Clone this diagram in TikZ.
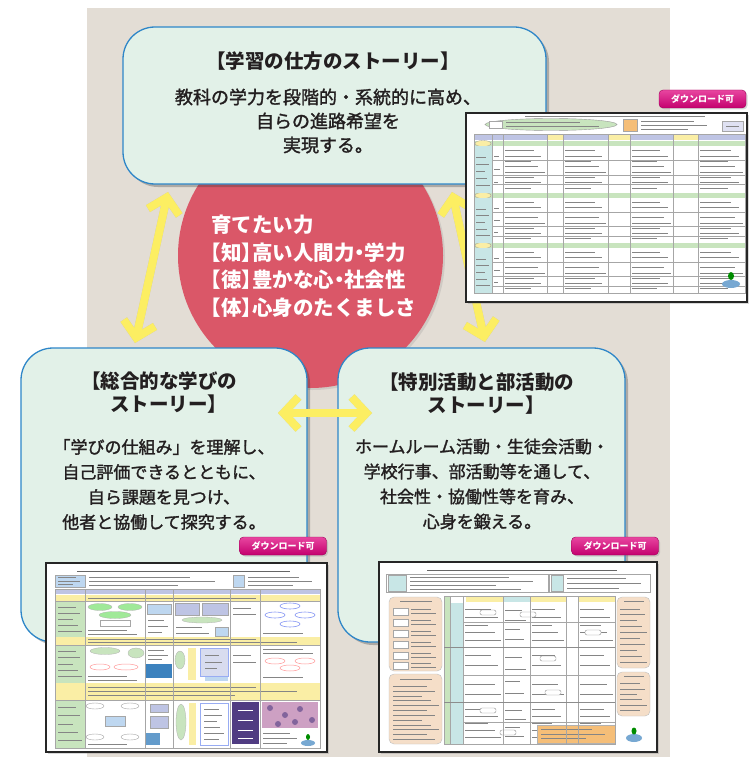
\documentclass[tikz,border=0pt]{standalone}
\usepackage{fontspec}
\newfontfamily\jp{Noto Sans CJK JP}
\newfontfamily\jph[RawFeature=+halt]{Noto Sans CJK JP}
\newfontfamily\jpm[FakeBold=1.6]{Noto Sans CJK JP}
\usetikzlibrary{arrows.meta,shadows,calc}
\definecolor{bgbeige}{RGB}{227,221,213}
\definecolor{boxfill}{RGB}{226,241,232}
\definecolor{boxline}{RGB}{46,134,200}
\definecolor{circred}{RGB}{218,87,104}
\definecolor{arrowy}{RGB}{252,238,98}
\definecolor{badge}{RGB}{196,0,110}
\definecolor{badgelt}{RGB}{232,70,160}
\definecolor{txtdark}{RGB}{35,31,32}
\definecolor{lav}{RGB}{190,196,228}
\definecolor{lgreen}{RGB}{200,228,190}
\definecolor{lyellow}{RGB}{250,238,165}
\definecolor{lteal}{RGB}{200,230,230}
\definecolor{peach}{RGB}{245,222,200}
\definecolor{orangeb}{RGB}{245,190,120}
\definecolor{lblue}{RGB}{190,215,240}
\definecolor{purp}{RGB}{80,60,130}
\definecolor{pinkph}{RGB}{205,160,195}
\definecolor{waterb}{RGB}{60,130,190}
\newcommand\thumbtext[5]{%
  \foreach \k in {1,...,#5}{%
    \pgfmathsetmacro\thY{(#2)+(\k-0.5)*((#4)-(#2))/(#5)}%
    \pgfmathsetmacro\thX{(#3)-mod(\k*3,5)*0.09*((#3)-(#1))}%
    \draw[tline] (#1,\thY) -- (\thX,\thY);
  }}
\begin{document}
\begin{tikzpicture}[x=1pt,y=-1pt,
  story/.style={draw=boxline, line width=1.3pt, fill=boxfill, rounded corners=32pt, inner sep=0pt,
     drop shadow={shadow xshift=3pt, shadow yshift=-3pt, opacity=0.3, fill=black!80}},
  ttl/.style={font=\jph\bfseries\fontsize{19.5}{23}\selectfont, text=txtdark, align=center, inner sep=0pt},
  bdy/.style={font=\jpm\fontsize{17}{25}\selectfont, text=txtdark, align=center, inner sep=0pt},
  ctxt/.style={font=\jph\bfseries\fontsize{20.5}{27.5}\selectfont, text=white, align=left, inner sep=0pt, anchor=west},
  yarr/.style={line width=8pt, draw=arrowy, {Straight Barb[length=15pt,width=32pt]}-{Straight Barb[length=15pt,width=32pt]}},
  yshad/.style={line width=8pt, draw=black!50, opacity=0.3, {Straight Barb[length=15pt,width=32pt]}-{Straight Barb[length=15pt,width=32pt]}},
  thumb/.style={draw=black!85, line width=1.2pt, fill=white, inner sep=0pt,
     drop shadow={shadow xshift=2pt, shadow yshift=-2pt, opacity=0.3}},
  badgest/.style={rounded corners=4pt, top color=badgelt, bottom color=badge, draw=badge!80!black, line width=0.4pt,
     minimum width=87pt, minimum height=18pt, inner sep=0pt, text=white, font=\jp\bfseries\fontsize{9}{10}\selectfont,
     drop shadow={shadow xshift=1.5pt, shadow yshift=-1.5pt, opacity=0.3}},
  tline/.style={draw=black!48, line width=0.9pt},
  cellf/.style={draw=black!35, line width=0.4pt},
]
\useasboundingbox (0,0) rectangle (753,757);
\fill[white] (0,0) rectangle (753,757);
\fill[bgbeige] (87,8) rectangle (670,757);

% central circle
\node[circle, fill=circred, minimum size=265pt, inner sep=0pt,
  drop shadow={shadow xshift=2pt, shadow yshift=-2pt, opacity=0.2}] (circ) at (310.5,255.5) {};
\node[ctxt] (ctext) at (211,266) {育てたい力\\【知】高い人間力・学力\\【徳】豊かな心・社会性\\【体】心身のたくましさ};

% story boxes
\node[story, minimum width=423pt, minimum height=157pt] (topbox) at (334.5,105.5) {};
\node[story, minimum width=286pt, minimum height=294pt] (leftbox) at (164,495) {};
\node[story, minimum width=287pt, minimum height=294pt] (rightbox) at (481.5,495) {};

\node[ttl] (toptitle) at (333,61) {【学習の仕方のストーリー】};
\node[bdy, font=\jpm\fontsize{18}{24}\selectfont] (topbody) at (328,121) {教科の学力を段階的・系統的に高め、\\自らの進路希望を\\実現する。};

\node[ttl] (lefttitle) at (164,393) {【総合的な学びの\\ストーリー】};
\node[bdy] (leftbody) at (164,484.5) {「学びの仕組み」を理解し、\\自己評価できるとともに、\\自ら課題を見つけ、\\他者と協働して探究する。};

\node[ttl] (righttitle) at (481.5,394) {【特別活動と部活動の\\ストーリー】};
\node[bdy] (rightbody) at (482,484) {ホームルーム活動・生徒会活動・\\学校行事、部活動等を通して、\\社会性・協働性等を育み、\\心身を鍛える。};

% arrows
\coordinate (la1) at (168,192); \coordinate (la2) at (135,343);
\coordinate (ra1) at (452,192); \coordinate (ra2) at (485,342);
\coordinate (ha1) at (278,413); \coordinate (ha2) at (372,413);
\foreach \p/\q in {la1/la2, ra1/ra2, ha1/ha2}{
  \draw[yshad, xshift=2pt, yshift=-2pt] (\p) -- (\q);
  \draw[yarr] (\p) -- (\q);
}

% ===== top-right thumbnail =====
\node[thumb, minimum width=281pt, minimum height=189pt] (thTR) at (606.5,207.5) {};
\draw[tline, line width=0.7pt] (525,116.5) -- (705,116.5);
\draw[fill=lgreen, draw=black!40, line width=0.4pt] (551,124.5) ellipse [x radius=66pt, y radius=6pt];
\draw[cellf, fill=white] (489,121) rectangle (502,128);
\thumbtext{506}{120.5}{608}{128.5}{2}
\draw[cellf, fill=orangeb] (623,119) rectangle (637,131);
\thumbtext{641}{119}{714}{131}{3}
\draw[cellf, fill=lav!50] (722,121) rectangle (743,131);
\draw[tline] (726,126) -- (739,126);
\fill[lav] (474,134) rectangle (745,140);
\foreach \a/\b in {547/563, 608/630, 673/698} \fill[lyellow] (\a,134) rectangle (\b,140);
\foreach \ya in {141,193,243}{
  \fill[lgreen] (474,\ya) rectangle (745,\ya+5);
  \draw[fill=lyellow, draw=black!40, line width=0.3pt] (483,\ya+2.5) ellipse [x radius=8pt, y radius=3pt];
}
\foreach \ya/\yb in {146/193, 198/243, 248/293}{
  \fill[lteal] (474,\ya) rectangle (492,\yb);
  \thumbtext{476}{\ya+8}{490}{\yb-4}{5}
  \foreach \xa/\xb in {505/545, 565/606, 632/671, 700/743}{\thumbtext{\xa}{\ya+2}{\xb}{\yb-2}{8}}
  \thumbtext{494}{\ya+4}{501}{\yb-4}{3}
}
\foreach \x in {492,503,547,563,608,630,673,698} \draw[cellf] (\x,134) -- (\x,293);
\draw[cellf] (474,134) rectangle (745,293);
\foreach \y in {160,175,184,212,226,236,262,276,286} \draw[cellf] (492,\y) -- (745,\y);
\foreach \a/\b in {596/606, 592/604, 600/612} \fill[lblue, opacity=0.8] (\a,\b) rectangle ++(14,5);
\fill[waterb!70] (731,284) ellipse [x radius=9pt, y radius=4pt];
\fill[green!55!black] (731,276) ellipse [x radius=3pt, y radius=4pt];

% ===== bottom-left thumbnail =====
\node[thumb, minimum width=281pt, minimum height=189pt] (thBL) at (186.5,657.5) {};
\draw[tline, line width=0.8pt, draw=black!60] (77,571) -- (290,571);
\draw[cellf, fill=lblue] (55,575) rectangle (85,587);
\thumbtext{58}{576}{82}{586}{3}
\thumbtext{89}{576}{228}{587}{3}
\draw[cellf, fill=lblue] (233,575) rectangle (244,587);
\thumbtext{248}{576}{318}{587}{3}
\fill[lav] (55,589) rectangle (320,594);
\foreach \ya/\yb in {595/601, 637/645, 683/700} \fill[lyellow] (55,\ya) rectangle (320,\yb);
\foreach \ya/\yb in {601/637, 645/683, 700/748}{
  \fill[lgreen] (55,\ya) rectangle (85,\yb);
  \thumbtext{58}{\ya+3}{82}{\yb-3}{5}
}
\thumbtext{88}{596}{318}{600}{1}
\thumbtext{88}{638}{318}{644}{2}
\thumbtext{88}{685}{318}{698}{3}
% section 1
\foreach \cx/\cy/\rx in {100/607/12, 130/607/12, 115/615/16}
  \draw[fill=lgreen!80!green, draw=black!30, line width=0.3pt] (\cx,\cy) ellipse [x radius=\rx pt, y radius=3.5pt];
\draw[cellf, fill=white] (100,620) rectangle (130,626);
\thumbtext{88}{629}{142}{636}{2}
\draw[cellf, fill=lblue] (147,604) rectangle (171,614);
\thumbtext{148}{617}{170}{635}{3}
\draw[cellf, fill=lav] (175,603) rectangle (199,615);
\draw[cellf, fill=lav] (202,603) rectangle (228,615);
\draw[fill=lgreen, draw=black!30, line width=0.3pt] (202,620) ellipse [x radius=20pt, y radius=3pt];
\thumbtext{176}{625}{212}{636}{2}
\draw[cellf, fill=lblue] (215,627) rectangle (228,636);
\thumbtext{233}{606}{258}{617}{2}
\foreach \cx/\cy in {290/606, 275/615, 305/615, 290/624}
  \draw[fill=white, draw=lblue!70!blue, line width=0.6pt] (\cx,\cy) ellipse [x radius=10pt, y radius=3pt];
\thumbtext{263}{630}{318}{636}{1}
% section 2
\draw[fill=lgreen, draw=black!30, line width=0.3pt] (105,651) ellipse [x radius=15pt, y radius=3.5pt];
\draw[fill=lgreen, draw=black!30, line width=0.3pt] (136,653) ellipse [x radius=8pt, y radius=5pt];
\foreach \cx/\rx in {100/10, 126/12}
  \draw[fill=white, draw=pink!80!red, line width=0.5pt] (\cx,667) ellipse [x radius=\rx pt, y radius=3pt];
\thumbtext{88}{674}{142}{682}{2}
\thumbtext{148}{648}{170}{662}{3}
\fill[waterb] (146,664) rectangle (172,678);
\fill[lyellow] (188,648) rectangle (196,680);
\draw[fill=lgreen, draw=black!30, line width=0.3pt] (180,660) ellipse [x radius=5pt, y radius=9pt];
\draw[cellf, fill=lav!60, draw=lblue!80!blue] (200,648) rectangle (228,676);
\thumbtext{205}{652}{224}{672}{3}
\fill[lblue] (205,677) rectangle (228,681);
\thumbtext{233}{652}{258}{666}{2}
\thumbtext{263}{648}{318}{655}{2}
\foreach \cx/\cy in {275/661, 305/661, 290/668}
  \draw[fill=white, draw=pink!80!red, line width=0.5pt] (\cx,\cy) ellipse [x radius=10pt, y radius=3pt];
\thumbtext{263}{674}{318}{681}{1}
% section 3
\draw[cellf, fill=lblue] (105,716) rectangle (125,726);
\foreach \cx/\cy in {95/706, 130/706, 95/737, 130/737}
  \draw[fill=white, draw=black!35, line width=0.4pt] (\cx,\cy) ellipse [x radius=9pt, y radius=3pt];
\thumbtext{88}{742}{142}{747}{1}
\draw[cellf, fill=lav] (150,704) rectangle (168,712);
\draw[cellf, fill=lav] (150,716) rectangle (168,728);
\fill[waterb!80] (146,733) rectangle (160,745);
\draw[fill=lgreen, draw=black!30, line width=0.3pt] (181,722) ellipse [x radius=5pt, y radius=18pt];
\fill[lyellow] (189,703) rectangle (196,745);
\draw[cellf, fill=white, draw=lblue!80!blue, line width=0.6pt] (200,703) rectangle (228,745);
\thumbtext{204}{706}{224}{742}{6}
\fill[purp] (232,702) rectangle (259,744);
\foreach \y in {710,720,730,738} \draw[white, line width=0.8pt] (238,\y) -- (253,\y);
\fill[pinkph] (262,702) rectangle (318,728);
\foreach \cx/\cy in {270/708, 285/715, 300/709, 312/720, 278/724, 295/722}
  \fill[purp!60!pinkph] (\cx,\cy) circle [radius=3pt];
\thumbtext{263}{731}{300}{746}{3}
\fill[waterb!70] (308,743) ellipse [x radius=7pt, y radius=3pt];
\fill[green!55!black] (308,737) ellipse [x radius=2pt, y radius=3pt];
\foreach \x in {85,145,173,230,260} \draw[cellf] (\x,589) -- (\x,748);
\draw[cellf] (55,589) rectangle (320,748);
\foreach \y in {601,645,700} \draw[cellf] (55,\y) -- (320,\y);

% ===== bottom-right thumbnail =====
\node[thumb, minimum width=278pt, minimum height=190pt] (thBR) at (518,657) {};
\draw[tline, line width=0.8pt, draw=black!60] (427,570) -- (617,570);
\draw[cellf] (386,574) rectangle (548,592);
\draw[cellf, fill=lteal] (388,575) rectangle (406,591);
\thumbtext{410}{575}{545}{591}{4}
\draw[cellf] (549,574) rectangle (650,592);
\draw[cellf, fill=lteal] (551,575) rectangle (563,591);
\thumbtext{567}{576}{648}{591}{3}
\foreach \a/\b/\c/\d in {389/597/442/671, 389/674/442/744, 617/597/650/668, 617/672/650/716}
  \draw[fill=peach, draw=black!25, rounded corners=5pt] (\a,\b) rectangle (\c,\d);
\draw[tline] (400,601) -- (432,601);
\foreach \y in {608,619,630,641,652,662}{
  \draw[cellf, fill=white] (393,\y) rectangle (408,\y+7);
  \thumbtext{411}{\y}{439}{\y+7}{2}
}
\draw[tline] (400,679) -- (432,679);
\thumbtext{393}{684}{439}{742}{12}
\draw[tline] (624,601) -- (644,601);
\thumbtext{620}{606}{647}{665}{10}
\draw[tline] (624,676) -- (644,676);
\thumbtext{620}{681}{647}{713}{6}
\fill[lgreen] (444,597) rectangle (450,744);
\fill[lteal] (450,603) rectangle (463,744);
\foreach \a/\b in {466/503, 530/566, 578/615} \fill[lyellow] (\a,597) rectangle (\b,602);
\fill[lteal] (503,597) rectangle (530,602);
\foreach \ya/\yb in {604/646, 649/701, 704/743}{
  \thumbtext{465}{\ya+2}{501}{\yb-2}{5}
  \thumbtext{505}{\ya+2}{528}{\yb-2}{4}
  \thumbtext{532}{\ya+2}{564}{\yb-2}{5}
  \thumbtext{580}{\ya+2}{613}{\yb-2}{5}
}
\foreach \x/\y in {480/610, 520/612, 540/656, 585/630, 545/690, 480/708, 500/730}
  \draw[fill=white, draw=black!45, line width=0.4pt, rounded corners=2pt] (\x,\y) rectangle ++(16,5);
\draw[fill=orangeb, draw=black!30] (537,725) rectangle (615,743);
\thumbtext{541}{727}{611}{741}{3}
\foreach \x in {450,463,503,530,566,578} \draw[cellf] (\x,596) -- (\x,744);
\draw[cellf] (444,596) rectangle (615,744);
\draw[black!45, line width=1pt] (444,647) -- (615,647);
\draw[black!45, line width=1pt] (444,702) -- (615,702);
\foreach \y in {622,675,722} \draw[cellf] (463,\y) -- (615,\y);
\fill[waterb!70] (634,738) ellipse [x radius=8pt, y radius=4pt];
\fill[green!55!black] (634,731) ellipse [x radius=2.5pt, y radius=3.5pt];

% badges
\node[badgest] (bdTR) at (702.5,99) {ダウンロード可};
\node[badgest] (bdL) at (283,546) {ダウンロード可};
\node[badgest] (bdR) at (615,546) {ダウンロード可};
\end{tikzpicture}
\end{document}
